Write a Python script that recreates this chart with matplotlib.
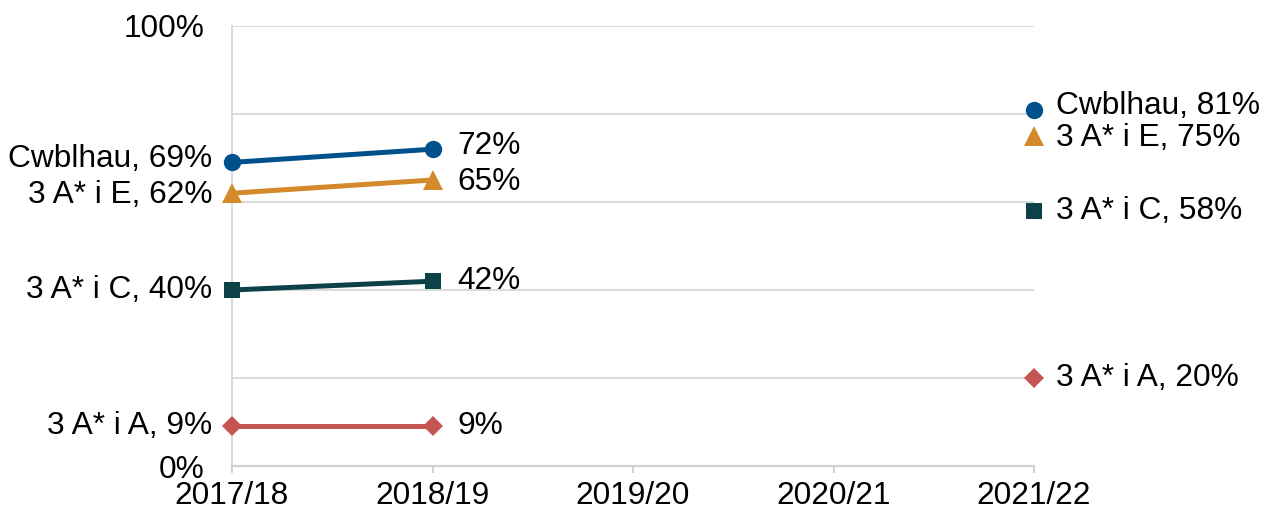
import numpy as np
import matplotlib
matplotlib.use('Agg')
import matplotlib.pyplot as plt

plt.rcParams['font.family'] = ['Liberation Sans', 'DejaVu Sans']

# 数据
years = ['2017/18', '2018/19', '2019/20', '2020/21', '2021/22']
names = ['Cwblhau', '3 A* i E', '3 A* i C', '3 A* i A']
cwblhau = [69, 72, np.nan, np.nan, 81]
a_i_e = [62, 65, np.nan, np.nan, 75]
a_i_c = [40, 42, np.nan, np.nan, 58]
a_i_a = [9, 9, np.nan, np.nan, 20]

series = [cwblhau, a_i_e, a_i_c, a_i_a]
colors = ['#00508C', '#D4892A', '#0D4148', '#C55552']
markers = ['o', '^', 's', 'D']
msizes = [12.5, 14, 12, 10]
label_dy = [2.5, -1.5, 0, 0]   # 标签的垂直微调 (points)
fs = 22.8

fig = plt.figure(figsize=(12.71, 5.2), dpi=100)
ax = fig.add_axes([232/1271, 54/520, (1034-232)/1271, 440/520])

x = np.arange(len(years))
for vals, name, c, m, ms, dy in zip(series, names, colors, markers, msizes, label_dy):
    ax.plot(x, vals, color=c, lw=3.6, marker=m, markersize=ms,
            markeredgewidth=0, solid_capstyle='round', zorder=3, clip_on=False)

    # 左侧标签 (第一个点)
    ax.annotate(f'{name}, {vals[0]:.0f}%', (x[0], vals[0]), xytext=(-14, dy),
                textcoords='offset points', ha='right', va='center', fontsize=fs)
    # 2018/19 标签
    ax.annotate(f'{vals[1]:.0f}%', (x[1], vals[1]), xytext=(18, dy),
                textcoords='offset points', ha='left', va='center', fontsize=fs)
    # 2021/22 标签
    ax.annotate(f'{name}, {vals[4]:.0f}%', (x[4], vals[4]), xytext=(16, dy),
                textcoords='offset points', ha='left', va='center', fontsize=fs)

ax.set_xlim(0, 4)
ax.set_ylim(0, 100)
ax.set_xticks(x)
ax.set_xticklabels(years, fontsize=fs)
ax.set_yticks([0, 20, 40, 60, 80, 100])
ax.set_yticklabels(['0%', '', '', '', '', '100%'], fontsize=fs)

ax.grid(True, axis='y', color='#D9D9D9', lw=1.4, zorder=0)
ax.set_axisbelow(True)
for s in ['top', 'right']:
    ax.spines[s].set_visible(False)
ax.spines['left'].set_color('#D9D9D9')
ax.spines['left'].set_linewidth(1.4)
ax.spines['bottom'].set_color('#D0D0D0')
ax.spines['bottom'].set_linewidth(1.6)
ax.tick_params(axis='y', length=0, pad=20)
ax.tick_params(axis='x', length=5, width=1.4, color='#D0D0D0', pad=6, direction='out')

fig.savefig('out.png', dpi=100)
